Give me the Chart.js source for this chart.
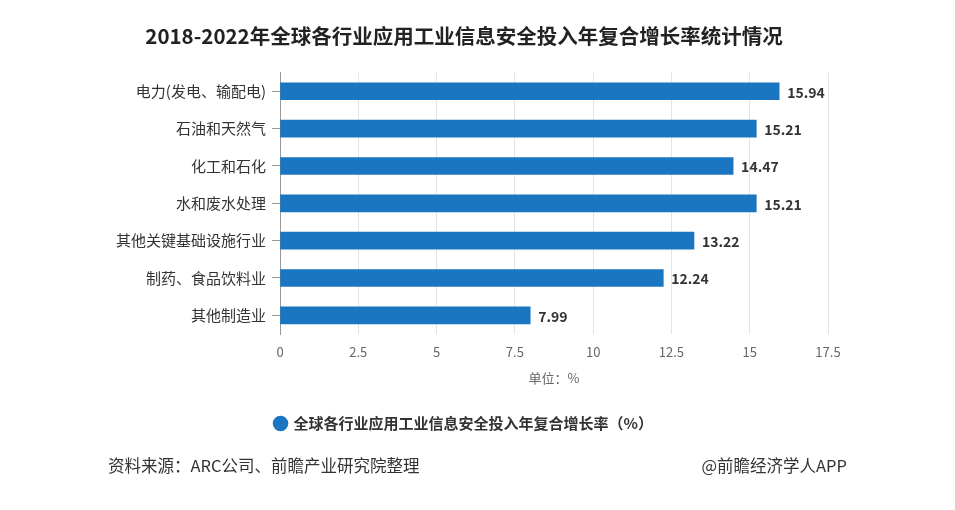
<!DOCTYPE html>
<html>
<head>
<meta charset="utf-8">
<script src="https://cdn.jsdelivr.net/npm/chart.js@4"></script>
<style>
  html, body { margin: 0; padding: 0; background: #fff; }
  #wrap { width: 955px; height: 510px; position: relative; }
</style>
</head>
<body>
<div id="wrap"><canvas id="chart" width="955" height="510"></canvas></div>
<script>
const categories = ['电力(发电、输配电)', '石油和天然气', '化工和石化', '水和废水处理', '其他关键基础设施行业', '制药、食品饮料业', '其他制造业'];
const growthRates = [15.94, 15.21, 14.47, 15.21, 13.22, 12.24, 7.99];
const seriesName = '全球各行业应用工业信息安全投入年复合增长率（%）';
const chartTitle = '2018-2022年全球各行业应用工业信息安全投入年复合增长率统计情况';
const axisUnit = '单位：%';
const sourceText = '资料来源：ARC公司、前瞻产业研究院整理';
const creditText = '@前瞻经济学人APP';

const fontFamily = '"Microsoft YaHei", "Noto Sans CJK SC", sans-serif';

// value labels at the end of each bar
const barLabels = {
    id: 'barLabels',
    afterDatasetsDraw(chart) {
        const ctx = chart.ctx;
        const meta = chart.getDatasetMeta(0);
        ctx.save();
        ctx.font = 'bold 14px ' + fontFamily;
        ctx.fillStyle = '#333';
        ctx.textAlign = 'left';
        ctx.textBaseline = 'middle';
        meta.data.forEach((bar, i) => {
            ctx.fillText(growthRates[i].toFixed(2), bar.x + 8, bar.y + 1);
        });
        ctx.restore();
    }
};

// source line at the bottom
const footer = {
    id: 'footer',
    afterDraw(chart) {
        const ctx = chart.ctx;
        ctx.save();
        ctx.font = '16.5px ' + fontFamily;
        ctx.fillStyle = '#333';
        ctx.textBaseline = 'middle';
        ctx.textAlign = 'left';
        ctx.fillText(sourceText, 108, 466);
        ctx.textAlign = 'right';
        ctx.fillText(creditText, 847, 466);
        ctx.restore();
    }
};

const ctx = document.getElementById('chart').getContext('2d');
new Chart(ctx, {
    type: 'bar',
    data: {
        labels: categories,
        datasets: [{
            label: seriesName,
            data: growthRates,
            backgroundColor: '#1a76c0',
            barThickness: 17
        }]
    },
    options: {
        indexAxis: 'y',
        responsive: false,
        animation: false,
        layout: {
            padding: { top: 0, left: 100, right: 127, bottom: 69 }
        },
        scales: {
            x: {
                min: 0,
                max: 17.5,
                ticks: {
                    stepSize: 2.5,
                    color: '#666',
                    font: { size: 13, family: fontFamily },
                    padding: 10
                },
                grid: {
                    color: '#e4e4e4',
                    tickLength: 0
                },
                border: { display: false },
                title: {
                    display: true,
                    text: axisUnit,
                    color: '#666',
                    font: { size: 13, family: fontFamily },
                    padding: { top: 4, bottom: 18 }
                },
                afterFit(scale) { scale.height = 70; }
            },
            y: {
                ticks: {
                    color: '#333',
                    font: { size: 15, family: fontFamily },
                    padding: 6
                },
                grid: {
                    offset: false,
                    drawOnChartArea: false,
                    color: '#999',
                    tickLength: 8
                },
                border: { display: true, color: '#999' },
                afterFit(scale) { scale.width = 180; }
            }
        },
        plugins: {
            title: {
                display: true,
                text: chartTitle,
                color: '#222',
                font: { size: 20.5, weight: 'bold', family: fontFamily },
                padding: { top: 24, bottom: 24 }
            },
            legend: {
                position: 'bottom',
                labels: {
                    usePointStyle: true,
                    pointStyle: 'circle',
                    boxWidth: 11,
                    boxHeight: 11,
                    color: '#333',
                    padding: 12,
                    font: { size: 15, weight: 'bold', family: fontFamily }
                }
            },
            tooltip: { enabled: false }
        }
    },
    plugins: [barLabels, footer]
});
</script>
</body>
</html>
